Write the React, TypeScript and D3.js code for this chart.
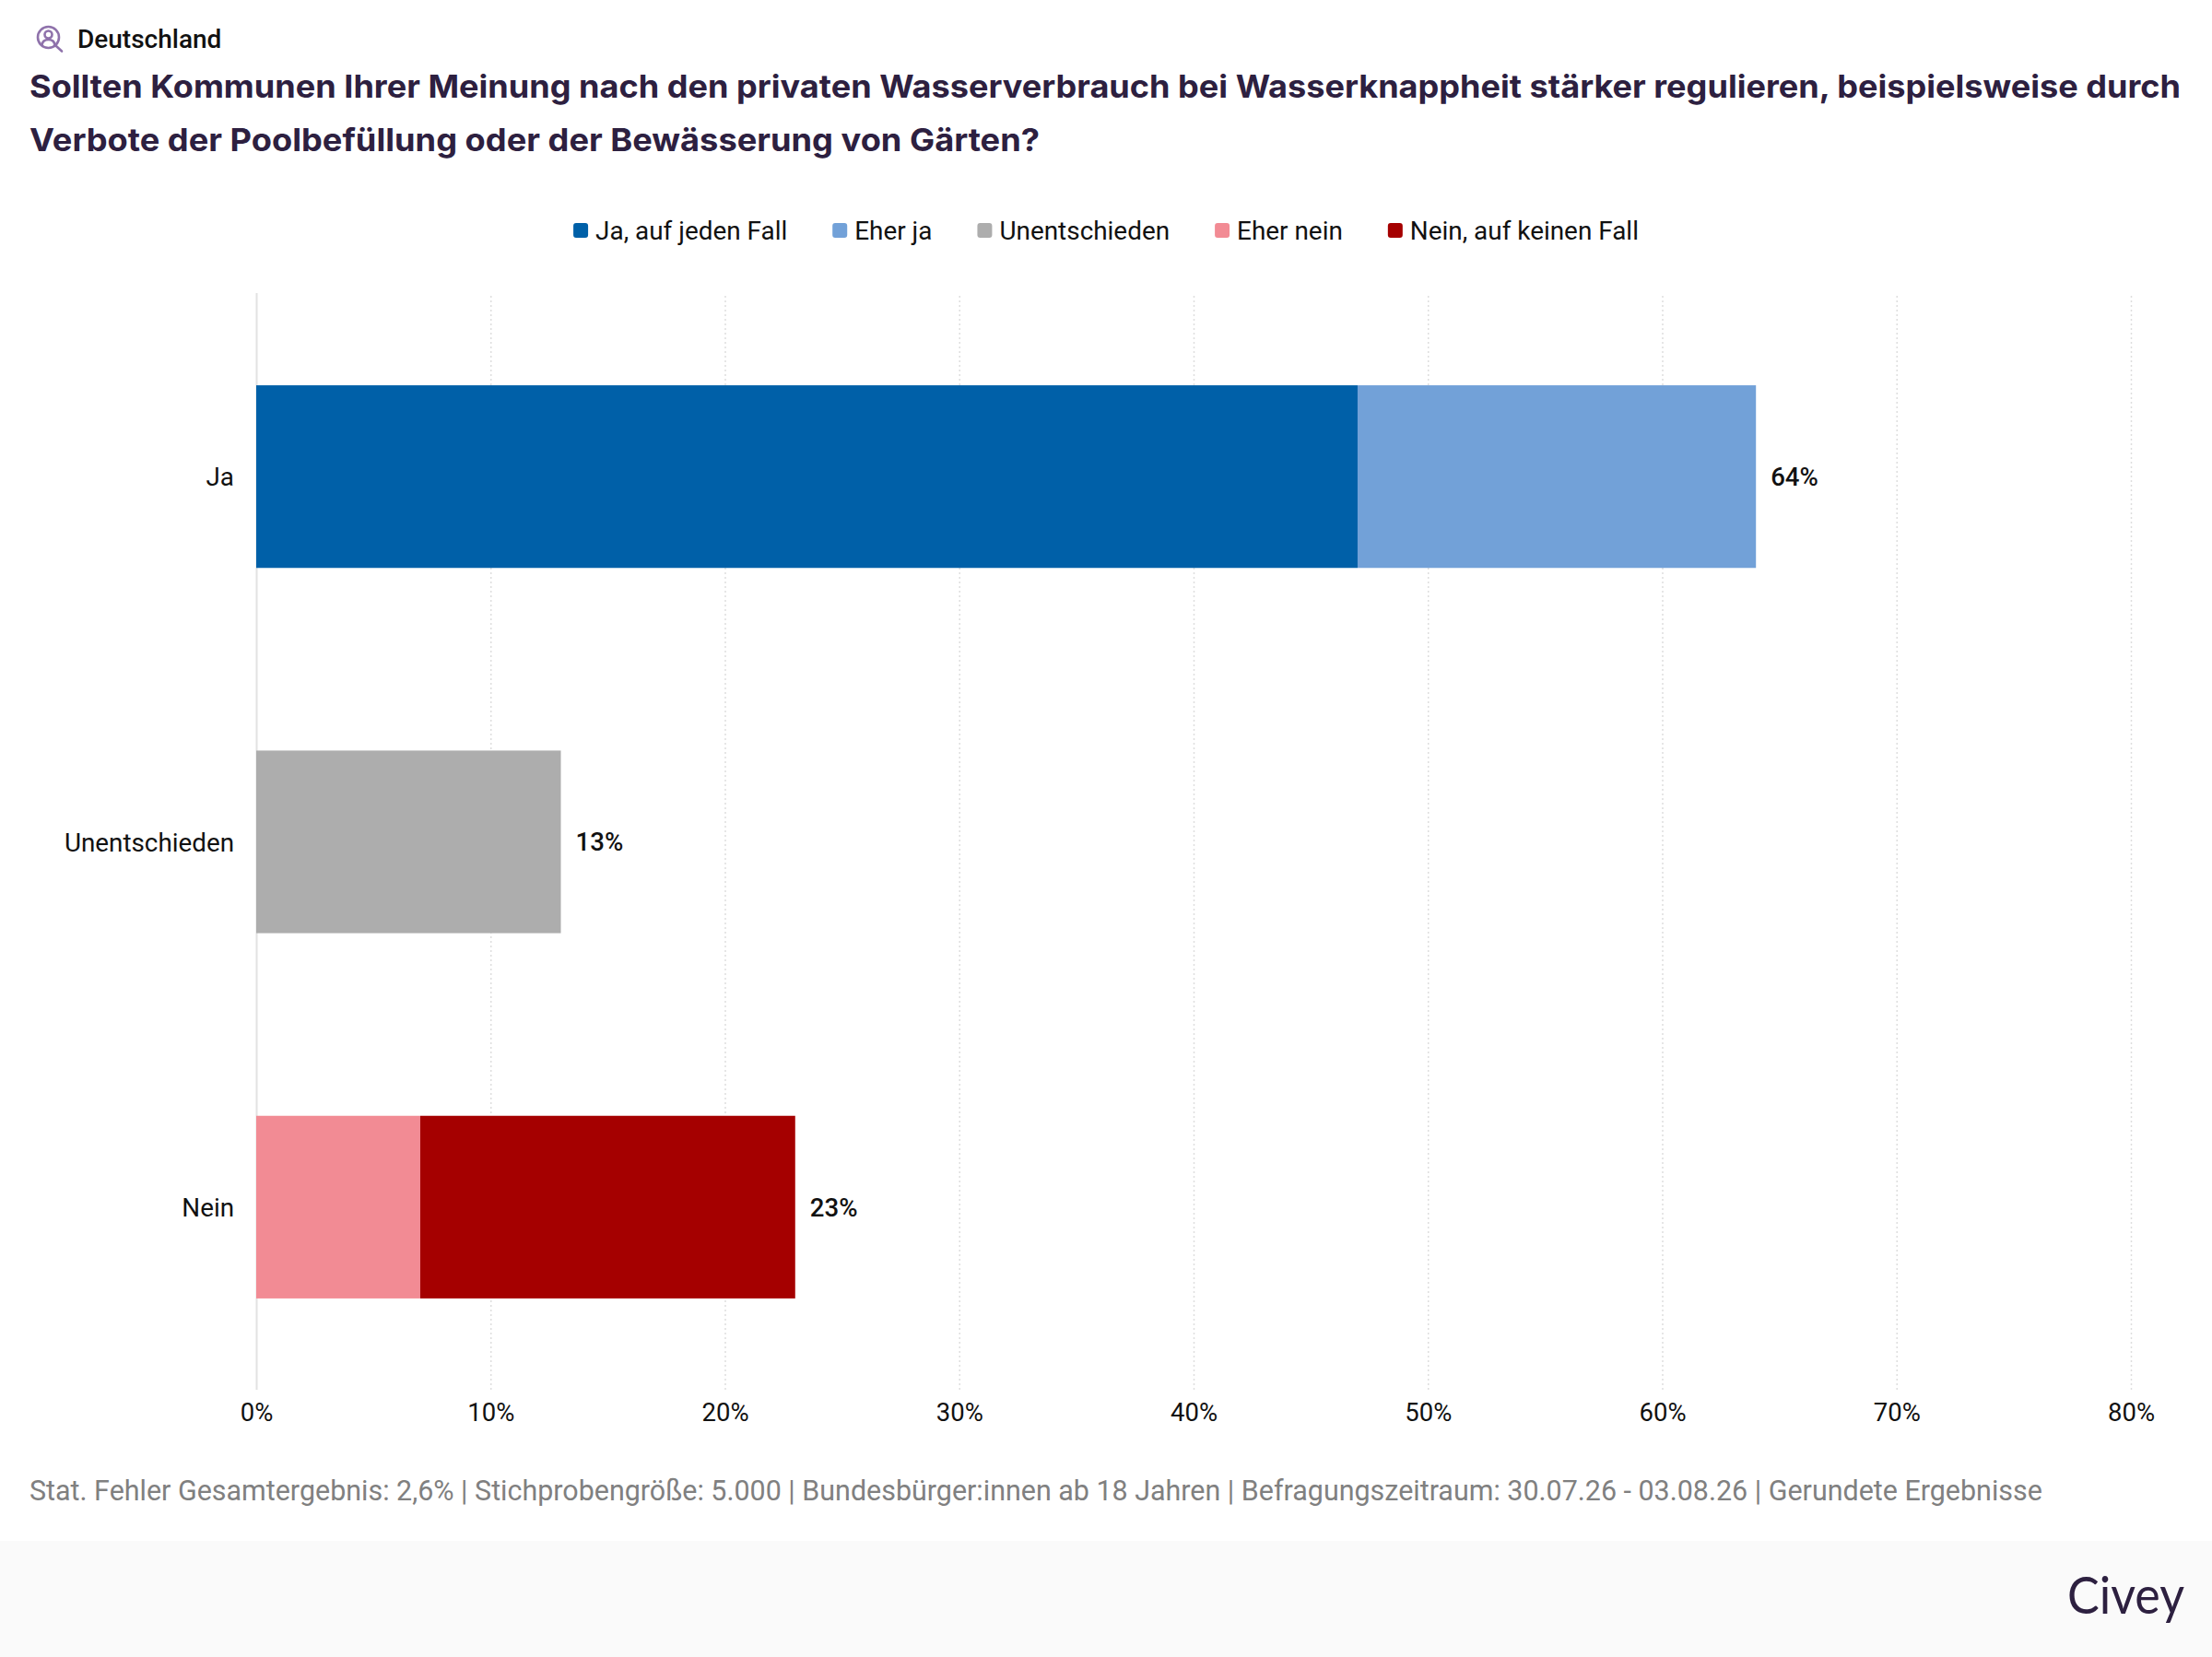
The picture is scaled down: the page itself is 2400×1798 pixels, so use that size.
import { useEffect, useRef } from "react";
import * as d3 from "d3";

const categories = ["Ja", "Unentschieden", "Nein"];
const seriesNames = ["Ja, auf jeden Fall", "Eher ja", "Unentschieden", "Eher nein", "Nein, auf keinen Fall"];
const seriesColors = ["#0060a8", "#72a1d8", "#adadad", "#f28b94", "#a50000"];
const jaAufJedenFall = [47, 0, 0];
const eherJa = [17, 0, 0];
const unentschieden = [0, 13, 0];
const eherNein = [0, 0, 7];
const neinAufKeinenFall = [0, 0, 16];
const totalLabels = ["64%", "13%", "23%"];
const xTicks = [0, 10, 20, 30, 40, 50, 60, 70, 80];

const region = "Deutschland";
const titleLines = [
  "Sollten Kommunen Ihrer Meinung nach den privaten Wasserverbrauch bei Wasserknappheit stärker regulieren, beispielsweise durch",
  "Verbote der Poolbefüllung oder der Bewässerung von Gärten?",
];
const footnote =
  "Stat. Fehler Gesamtergebnis: 2,6% | Stichprobengröße: 5.000 | Bundesbürger:innen ab 18 Jahren | Befragungszeitraum: 30.07.26 - 03.08.26 | Gerundete Ergebnisse";

const WIDTH = 2400;
const HEIGHT = 1798;
const ROBOTO = "Roboto, sans-serif";
const DARK = "#2d2040";

export default function App() {
  const svgRef = useRef<SVGSVGElement>(null);

  useEffect(() => {
    if (!svgRef.current) return;
    const svg = d3.select(svgRef.current);
    svg.selectAll("*").remove();

    const xScale = d3.scaleLinear().domain([0, 80]).range([278, 2312]);
    const yScale = d3.scaleBand().domain(categories).range([319, 1508]).padding(0.5).paddingOuter(0.25);

    svg.append("rect").attr("width", WIDTH).attr("height", HEIGHT).attr("fill", "#ffffff");
    svg.append("rect").attr("y", 1672).attr("width", WIDTH).attr("height", HEIGHT - 1672).attr("fill", "#fafafa");

    // Header icon
    const icon = svg.append("g").attr("fill", "none").attr("stroke", "#8f72ab").attr("stroke-width", 2.6);
    icon.append("circle").attr("cx", 52.5).attr("cy", 40.5).attr("r", 11.5);
    icon.append("circle").attr("cx", 52.5).attr("cy", 37.5).attr("r", 4);
    icon.append("path").attr("d", "M45.5 49 C46 44 49 43 52.5 43 C56 43 59 44 59.5 49");
    icon.append("path").attr("d", "M61 50 L67 55.5").attr("stroke-linecap", "round");

    svg.append("text")
      .attr("x", 84).attr("y", 52)
      .attr("font-family", ROBOTO).attr("font-size", 28).attr("font-weight", 500)
      .attr("fill", "#111111")
      .text(region);

    const titleWidths = [2334, 1096];
    svg.append("g").selectAll("text").data(titleLines).join("text")
      .attr("x", 32)
      .attr("y", (_, i) => 106 + i * 58)
      .attr("font-family", "Inter, sans-serif").attr("font-size", 34).attr("font-weight", 700)
      .attr("fill", DARK)
      .attr("textLength", (_, i) => titleWidths[i])
      .attr("lengthAdjust", "spacingAndGlyphs")
      .text((d) => d);

    // Legend, centred on the page from measured text widths
    const legend = svg.append("g");
    let cursor = 0;
    seriesNames.forEach((name, i) => {
      legend.append("rect")
        .attr("x", cursor).attr("y", 242).attr("width", 16).attr("height", 16).attr("rx", 3)
        .attr("fill", seriesColors[i]);
      const label = legend.append("text")
        .attr("x", cursor + 24).attr("y", 260)
        .attr("font-family", ROBOTO).attr("font-size", 27.9)
        .attr("fill", "#111111")
        .text(name);
      const w = (label.node() as SVGTextElement).getComputedTextLength();
      cursor += 24 + w + (i < seriesNames.length - 1 ? 49 : 0);
    });
    legend.attr("transform", `translate(${(WIDTH - cursor) / 2}, 0)`);

    // Grid and axis
    const axis = svg.append("g")
      .attr("transform", "translate(0, 1508)")
      .call(
        d3.axisBottom(xScale)
          .tickValues(xTicks)
          .tickSize(-1190)
          .tickPadding(14)
          .tickFormat((d) => `${d}%`)
      );
    axis.select(".domain").remove();
    axis.selectAll<SVGLineElement, number>(".tick line")
      .attr("stroke", (d) => (d === 0 ? "#e2e2e2" : "#dedede"))
      .attr("stroke-width", (d) => (d === 0 ? 2 : 1.5))
      .attr("stroke-dasharray", (d) => (d === 0 ? null : "2 3"));
    axis.selectAll("text")
      .attr("font-family", ROBOTO).attr("font-size", 27.5)
      .attr("fill", "#111111");

    // Stacked bars
    const rows = categories.map((category, i) => ({
      category,
      [seriesNames[0]]: jaAufJedenFall[i],
      [seriesNames[1]]: eherJa[i],
      [seriesNames[2]]: unentschieden[i],
      [seriesNames[3]]: eherNein[i],
      [seriesNames[4]]: neinAufKeinenFall[i],
    })) as any[];
    const stacked = d3.stack<any>().keys(seriesNames)(rows);

    svg.append("g").selectAll("g").data(stacked).join("g")
      .attr("fill", (_, i) => seriesColors[i])
      .selectAll("rect")
      .data((d) => d.filter((p) => p[1] > p[0]))
      .join("rect")
      .attr("x", (d) => xScale(d[0]))
      .attr("y", (d) => yScale(d.data.category)!)
      .attr("width", (d) => xScale(d[1]) - xScale(d[0]))
      .attr("height", yScale.bandwidth());

    // Category labels
    svg.append("g").selectAll("text").data(categories).join("text")
      .attr("x", 254)
      .attr("y", (d) => yScale(d)! + yScale.bandwidth() / 2)
      .attr("dy", "0.36em")
      .attr("text-anchor", "end")
      .attr("font-family", ROBOTO).attr("font-size", 27.8)
      .attr("fill", "#111111")
      .text((d) => d);

    // Totals at the end of each bar
    const lastStack = stacked[stacked.length - 1];
    svg.append("g").selectAll("text").data(categories).join("text")
      .attr("x", (_, i) => xScale(lastStack[i][1]) + 16)
      .attr("y", (d) => yScale(d)! + yScale.bandwidth() / 2)
      .attr("dy", "0.36em")
      .attr("font-family", ROBOTO).attr("font-size", 27.6).attr("font-weight", 500)
      .attr("fill", "#111111")
      .text((_, i) => totalLabels[i]);

    svg.append("text")
      .attr("x", 32).attr("y", 1628)
      .attr("font-family", ROBOTO).attr("font-size", 30.45)
      .attr("fill", "#808080")
      .text(footnote);

    svg.append("text")
      .attr("x", 2243).attr("y", 1751)
      .attr("font-family", "Lato, sans-serif").attr("font-size", 56)
      .attr("fill", DARK)
      .attr("textLength", 127).attr("lengthAdjust", "spacingAndGlyphs")
      .text("Civey");
  }, []);

  return (
    <svg
      ref={svgRef}
      width={WIDTH}
      height={HEIGHT}
      viewBox={`0 0 ${WIDTH} ${HEIGHT}`}
      style={{ position: "absolute", left: 0, top: 0, display: "block" }}
    />
  );
}
